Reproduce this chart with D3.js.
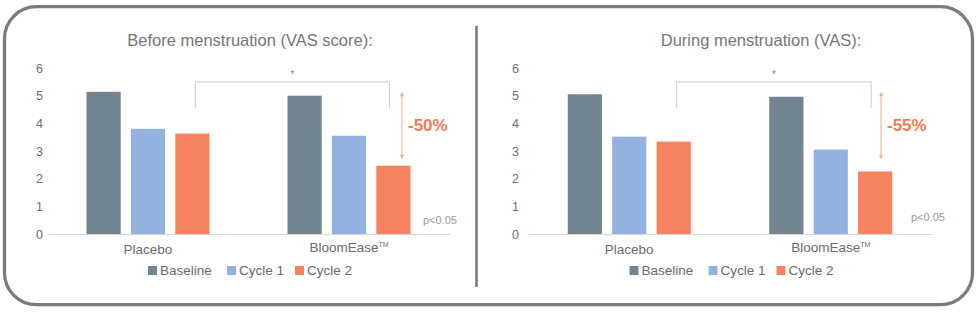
<!DOCTYPE html>
<html>
<head>
<meta charset="utf-8">
<script src="https://cdn.jsdelivr.net/npm/d3@7"></script>
<style>
  body { margin: 0; background: #fff; }
  svg text { font-family: 'Liberation Sans', Arial, sans-serif; }
</style>
</head>
<body>
<div id="chart"></div>
<script>
// chart values
const categories = ['Placebo', 'BloomEase'];
const categorySup = ['', 'TM'];
const series = ['Baseline', 'Cycle 1', 'Cycle 2'];
const beforePlacebo = [5.14, 3.80, 3.63];
const beforeBloomEase = [5.0, 3.55, 2.47];
const duringPlacebo = [5.05, 3.52, 3.34];
const duringBloomEase = [4.96, 3.05, 2.26];
const yTicks = [0, 1, 2, 3, 4, 5, 6];
const titles = ['Before menstruation (VAS score):', 'During menstruation (VAS):'];
const reductions = ['-50%', '-55%'];
const pLabel = 'p<0.05';

const colors = ['#72848f', '#94b2df', '#f5835f'];

const W = 980;
const H = 315;

const svg = d3.select('#chart')
  .append('svg')
  .attr('width', W)
  .attr('height', H);

// outer rounded frame
svg.append('rect')
  .attr('x', 4.5)
  .attr('y', 6.7)
  .attr('width', 968)
  .attr('height', 298)
  .attr('rx', 32)
  .attr('fill', 'none')
  .attr('stroke', '#7b7b7b')
  .attr('stroke-width', 3.3);

// divider between the two panels
svg.append('line')
  .attr('x1', 476.5).attr('x2', 476.5)
  .attr('y1', 26).attr('y2', 287)
  .attr('stroke', '#7b7b7b')
  .attr('stroke-width', 2.6);

const panels = [
  {
    title: titles[0], rows: [beforePlacebo, beforeBloomEase], reduction: reductions[0],
    x0: 48, x1: 450, labelPad: 5, titleX: 250, pX: 423, pY: 224, arrowX: 402,
  },
  {
    title: titles[1], rows: [duringPlacebo, duringBloomEase], reduction: reductions[1],
    x0: 529, x1: 932, labelPad: 10, titleX: 761, pX: 911, pY: 221, arrowX: 881,
  },
];

const y = d3.scaleLinear().domain([0, 6]).range([234, 68]);

function drawPanel(p) {
  const g = svg.append('g');

  const x0 = d3.scaleBand().domain(categories).range([p.x0 - 0.5, p.x1 - 0.5]);
  const groupW = 123;
  const x1 = d3.scaleBand().domain(series).range([0, groupW]).paddingInner(0.23);
  const off = (x0.bandwidth() - groupW) / 2;

  // title
  g.append('text')
    .attr('x', p.titleX)
    .attr('y', 46)
    .attr('text-anchor', 'middle')
    .style('font-size', '16.5px')
    .style('fill', '#767676')
    .text(p.title);

  // y axis labels
  const yAxis = g.append('g')
    .attr('transform', `translate(${p.x0},0)`)
    .call(d3.axisLeft(y).tickValues(yTicks).tickFormat(d3.format('d'))
      .tickSize(0).tickPadding(p.labelPad));
  yAxis.select('.domain').remove();
  yAxis.selectAll('text')
    .style('font-size', '12.5px')
    .style('font-family', "'Liberation Sans', Arial, sans-serif")
    .style('fill', '#6e6e6e');

  // baseline
  g.append('line')
    .attr('x1', p.x0).attr('x2', p.x1)
    .attr('y1', y(0) + 0.5).attr('y2', y(0) + 0.5)
    .attr('stroke', '#d6d6d6')
    .attr('stroke-width', 1);

  // bars
  const groups = g.selectAll('.grp')
    .data(categories)
    .enter()
    .append('g')
    .attr('class', 'grp')
    .attr('transform', (d) => `translate(${x0(d) + off},0)`);

  groups.selectAll('rect')
    .data((d, i) => p.rows[i].map((v, j) => ({ s: series[j], v })))
    .enter()
    .append('rect')
    .attr('x', (d) => x1(d.s))
    .attr('width', x1.bandwidth())
    .attr('y', (d) => y(d.v))
    .attr('height', (d) => y(0) - y(d.v))
    .attr('fill', (d, j) => colors[j]);

  // category labels
  const cats = g.selectAll('.cat')
    .data(categories)
    .enter()
    .append('text')
    .attr('class', 'cat')
    .attr('x', (d) => x0(d) + x0.bandwidth() / 2)
    .attr('y', (d, i) => (i === 0 ? 254 : 252))
    .attr('text-anchor', 'middle')
    .style('font-size', '13.5px')
    .style('fill', '#6a6a6a');
  cats.append('tspan').text((d) => d);
  cats.append('tspan')
    .attr('dy', -5)
    .style('font-size', '7px')
    .text((d, i) => categorySup[i]);

  // significance bracket between the two Cycle 2 bars
  const bx1 = x0(categories[0]) + off + x1(series[2]) + x1.bandwidth() / 2 + 3;
  const bx2 = x0(categories[1]) + off + x1(series[2]) + x1.bandwidth() / 2 - 4;
  g.append('path')
    .attr('d', `M${bx1},${y(4.55)}V${y(5.5)}H${bx2}V${y(4.55)}`)
    .attr('fill', 'none')
    .attr('stroke', '#d2d2d2')
    .attr('stroke-width', 1.2);
  g.append('text')
    .attr('x', (bx1 + bx2) / 2)
    .attr('y', y(5.5) - 4)
    .attr('text-anchor', 'middle')
    .style('font-size', '10px')
    .style('fill', '#888')
    .text('*');

  // reduction arrow
  const ay1 = y(5.12);
  const ay2 = y(2.72);
  g.append('line')
    .attr('x1', p.arrowX).attr('x2', p.arrowX)
    .attr('y1', ay1).attr('y2', ay2)
    .attr('stroke', '#f3a88e')
    .attr('stroke-width', 1);
  [[ay1, 1], [ay2, -1]].forEach(([ay, dir]) => {
    g.append('path')
      .attr('d', `M${p.arrowX},${ay}L${p.arrowX - 2},${ay + dir * 4}L${p.arrowX + 2},${ay + dir * 4}Z`)
      .attr('fill', '#f3a88e');
  });
  g.append('text')
    .attr('x', p.arrowX + 6)
    .attr('y', 131)
    .style('font-size', '17px')
    .style('font-weight', 'bold')
    .style('fill', '#f07b55')
    .text(p.reduction);

  // p value
  g.append('text')
    .attr('x', p.pX)
    .attr('y', p.pY)
    .style('font-size', '11px')
    .style('fill', '#9a9a9a')
    .text(pLabel);

  // legend
  const legendStarts = [0, 79, 147];
  const lx = (p.x0 + p.x1) / 2 - 101;
  const leg = g.append('g').attr('transform', `translate(${lx},0)`);
  series.forEach((s, j) => {
    leg.append('rect')
      .attr('x', legendStarts[j])
      .attr('y', 266)
      .attr('width', 9)
      .attr('height', 9)
      .attr('fill', colors[j]);
    leg.append('text')
      .attr('x', legendStarts[j] + 12)
      .attr('y', 275)
      .style('font-size', '13.5px')
      .style('fill', '#6a6a6a')
      .text(s);
  });
}

panels.forEach(drawPanel);
</script>
</body>
</html>
